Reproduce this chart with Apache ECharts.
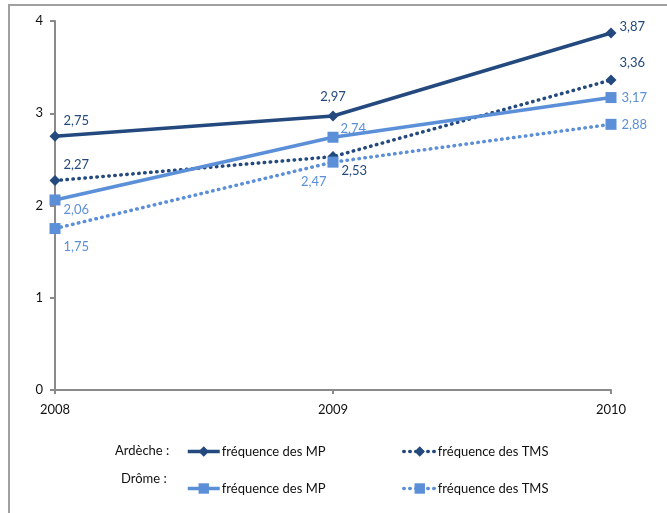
<!DOCTYPE html>
<html>
<head>
<meta charset="utf-8">
<script src="https://cdn.jsdelivr.net/npm/echarts@6/dist/echarts.min.js"></script>
<style>
  html, body { margin: 0; padding: 0; background: #fff; }
  #chart { width: 667px; height: 513px; }
</style>
</head>
<body>
<div id="chart"></div>
<script>
// Années
const years = ['2008', '2009', '2010'];
// Ardèche
const ardecheMP = [2.75, 2.97, 3.87];
const ardecheTMS = [2.27, 2.53, 3.36];
// Drôme
const dromeMP = [2.06, 2.74, 3.17];
const dromeTMS = [1.75, 2.47, 2.88];
// Graduations de l'axe vertical
const yTicks = [0, 1, 2, 3, 4];

const DARK = '#23497e';
const LIGHT = '#5b8fd8';
const FONT = 'Lato';

const fmt = v => String(v.toFixed(2)).replace('.', ',');

// Positions des étiquettes de valeur, point par point
function labelled(values, color, positions, offsets) {
  return values.map((v, i) => ({
    value: v,
    label: {
      show: true,
      position: positions[i],
      offset: offsets[i],
      color: color,
      fontFamily: FONT,
      fontSize: 13,
      formatter: p => fmt(p.value)
    }
  }));
}

const legendText = {
  'A-MP': 'fréquence des MP',
  'A-TMS': 'fréquence des TMS',
  'D-MP': 'fréquence des MP',
  'D-TMS': 'fréquence des TMS'
};

function legendAt(name, left, top) {
  return {
    data: [name],
    left: left,
    top: top,
    itemWidth: 32,
    itemHeight: 13,
    itemGap: 0,
    padding: 0,
    selectedMode: false,
    lineStyle: { width: 3.5 },
    formatter: n => legendText[n],
    textStyle: { fontFamily: FONT, fontSize: 13, color: '#111', padding: [0, 0, 0, -3] }
  };
}

const chart = echarts.init(document.getElementById('chart'));
chart.setOption({
  animation: false,
  backgroundColor: '#fff',
  grid: { left: 55, right: 56, top: 21, bottom: 123 },
  xAxis: {
    type: 'category',
    data: years,
    boundaryGap: false,
    axisLine: { lineStyle: { color: '#8a8a8a', width: 2 } },
    axisTick: { show: true, length: 4, lineStyle: { color: '#8a8a8a', width: 2 } },
    axisLabel: { color: '#111', fontFamily: FONT, fontSize: 13, margin: 13 }
  },
  yAxis: {
    type: 'value',
    min: yTicks[0],
    max: yTicks[yTicks.length - 1],
    interval: 1,
    splitLine: { show: false },
    axisLine: { show: true, lineStyle: { color: '#8a8a8a', width: 2 } },
    axisTick: { show: true, length: 5, lineStyle: { color: '#8a8a8a', width: 2 } },
    axisLabel: { color: '#111', fontFamily: FONT, fontSize: 13, margin: 12 }
  },
  legend: [
    legendAt('A-MP', 186, 445),
    legendAt('A-TMS', 402, 445),
    legendAt('D-MP', 186, 482),
    legendAt('D-TMS', 402, 482)
  ],
  graphic: [
    {
      type: 'rect', silent: true, z: -1,
      shape: { x: 9, y: 5, width: 700, height: 600 },
      style: { fill: null, stroke: '#a0a0a0', lineWidth: 2 }
    },
    {
      type: 'text', left: 115, top: 444,
      style: { text: 'Ardèche :', fontFamily: FONT, fontSize: 13, fill: '#111' }
    },
    {
      type: 'text', left: 121, top: 472,
      style: { text: 'Drôme :', fontFamily: FONT, fontSize: 13, fill: '#111' }
    }
  ],
  series: [
    {
      name: 'A-MP', type: 'line', z: 4,
      symbol: 'diamond', symbolSize: 11,
      itemStyle: { color: DARK },
      lineStyle: { color: DARK, width: 3.5 },
      data: labelled(ardecheMP, DARK,
        ['right', 'top', 'right'],
        [[-2, -16], [0, -2], [-2, -6]])
    },
    {
      name: 'A-TMS', type: 'line', z: 3,
      symbol: 'diamond', symbolSize: 11,
      itemStyle: { color: DARK },
      lineStyle: { color: DARK, width: 3.5, type: [0.5, 5.5], cap: 'round' },
      data: labelled(ardecheTMS, DARK,
        ['right', 'right', 'right'],
        [[-2, -16], [-2, 14], [-2, -17]])
    },
    {
      name: 'D-MP', type: 'line', z: 4,
      symbol: 'rect', symbolSize: 11,
      itemStyle: { color: LIGHT },
      lineStyle: { color: LIGHT, width: 3.5 },
      data: labelled(dromeMP, LIGHT,
        ['right', 'right', 'right'],
        [[-2, 10], [-3, -8], [0, 0]])
    },
    {
      name: 'D-TMS', type: 'line', z: 3,
      symbol: 'rect', symbolSize: 11,
      itemStyle: { color: LIGHT },
      lineStyle: { color: LIGHT, width: 3.5, type: [0.5, 5.5], cap: 'round' },
      data: labelled(dromeTMS, LIGHT,
        ['right', 'left', 'right'],
        [[-2, 18], [4, 20], [0, 0]])
    }
  ]
});
</script>
</body>
</html>
